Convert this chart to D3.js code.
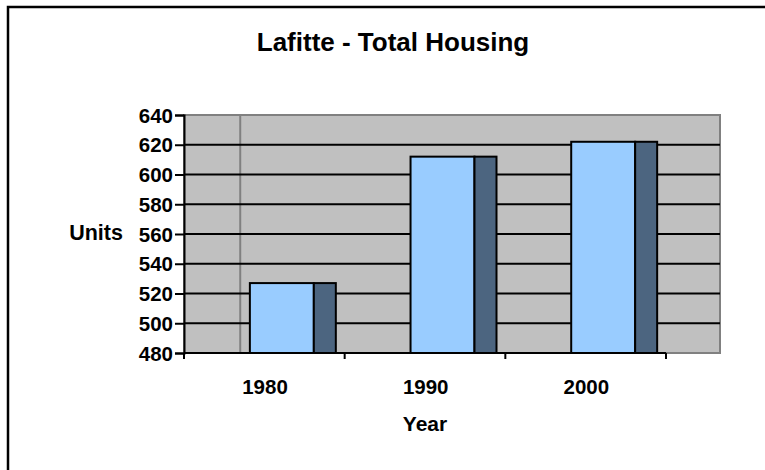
<!DOCTYPE html>
<html><head><meta charset="utf-8">
<script src="https://cdn.jsdelivr.net/npm/d3@7"></script>
<style>
html,body{margin:0;padding:0;background:#fff;overflow:hidden;}
text{font-family:"Liberation Sans",Arial,sans-serif;font-weight:bold;fill:#000;}
</style></head>
<body><svg id="c" width="765" height="470"></svg>
<script>
const categories = ["1980","1990","2000"];
const values = [527, 612, 622];
const yTicks = [480,500,520,540,560,580,600,620,640];
const title = "Lafitte - Total Housing";
const xTitle = "Year";
const yTitle = "Units";

const svg = d3.select("#c");
const L = 184, R = 720, T = 115, B = 353, axisEnd = 666;

// outer frame (extends beyond right/bottom edges)
svg.append("path").attr("d","M8,480 L8,7 L780,7")
  .attr("fill","none").attr("stroke","#000").attr("stroke-width",2.5);

const x = d3.scaleBand().domain(categories).range([L, axisEnd]).padding(0);
const y = d3.scaleLinear().domain([480,640]).range([B, T]);
const bw = x.bandwidth();

// plot area
svg.append("rect").attr("x",L).attr("y",T).attr("width",R-L).attr("height",B-T)
  .attr("fill","#C0C0C0").attr("stroke","#808080").attr("stroke-width",2);

// vertical depth gridline
svg.append("line").attr("x1",L+bw*0.35).attr("x2",L+bw*0.35).attr("y1",T).attr("y2",B)
  .attr("stroke","#808080").attr("stroke-width",2);

// horizontal gridlines
svg.selectAll("line.grid").data(yTicks.filter(d=>d>480 && d<640)).enter().append("line")
  .attr("class","grid").attr("x1",L).attr("x2",R).attr("y1",d=>y(d)).attr("y2",d=>y(d))
  .attr("stroke","#000").attr("stroke-width",2);

// bars
const g = svg.append("g");
categories.forEach((c,i)=>{
  const x0 = x(c) + bw*0.41, fw = bw*0.398, sw = bw*0.137;
  g.append("rect").attr("x",x0).attr("y",y(values[i])).attr("width",fw).attr("height",y(480)-y(values[i]))
    .attr("fill","#99CCFF").attr("stroke","#000").attr("stroke-width",2);
  g.append("rect").attr("x",x0+fw).attr("y",y(values[i])).attr("width",sw).attr("height",y(480)-y(values[i]))
    .attr("fill","#4C6580").attr("stroke","#000").attr("stroke-width",2);
});

// y axis
const ya = svg.append("g").attr("transform",`translate(${L},0)`)
  .call(d3.axisLeft(y).tickValues(yTicks).tickSize(9).tickPadding(2).tickFormat(d3.format("d")));
ya.select(".domain").attr("stroke","#000").attr("stroke-width",2);
ya.selectAll(".tick line").attr("stroke","#000").attr("stroke-width",2);
ya.selectAll("text").style("font-size","20.5px").attr("dy","0.35em");

// x axis
const xa = svg.append("g").attr("transform",`translate(0,${B})`)
  .call(d3.axisBottom(x).tickSize(0).tickPadding(26));
xa.select(".domain").remove();
xa.append("line").attr("x1",L).attr("x2",axisEnd).attr("y1",0).attr("y2",0).attr("stroke","#000").attr("stroke-width",2);
xa.selectAll("line.sep").data([...categories.map(c=>x(c)), axisEnd]).enter().append("line")
  .attr("class","sep").attr("x1",d=>d).attr("x2",d=>d).attr("y1",0).attr("y2",6)
  .attr("stroke","#000").attr("stroke-width",2);
xa.selectAll(".tick text").style("font-size","20.5px").attr("dy","0.71em").attr("dx",-(bw/2-81));

// titles
svg.append("text").attr("x",393).attr("y",51).attr("text-anchor","middle").style("font-size","26px").text(title);
svg.append("text").attr("x",425).attr("y",431).attr("text-anchor","middle").style("font-size","21px").text(xTitle);
svg.append("text").attr("x",96).attr("y",240).attr("text-anchor","middle").style("font-size","21.5px").text(yTitle);
</script></body></html>
